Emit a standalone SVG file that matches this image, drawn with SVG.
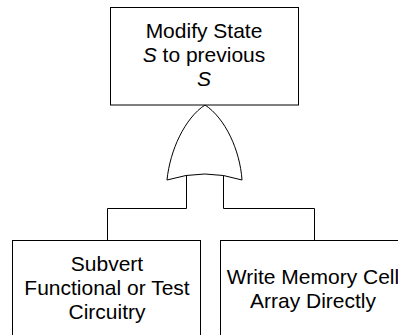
<svg xmlns="http://www.w3.org/2000/svg" width="398" height="335" viewBox="0 0 398 335">
  <style>
    .box { fill: #ffffff; stroke: #000000; stroke-width: 1; }
    .wire { fill: none; stroke: #000000; stroke-width: 1; }
    .gate { fill: #ffffff; stroke: #000000; stroke-width: 1; }
    text { font-family: "Liberation Sans", Arial, sans-serif; font-size: 21px; fill: #000000; text-anchor: middle; }
    .it { font-style: italic; }
  </style>
  <rect width="398" height="335" fill="#ffffff"/>

  <!-- connectors from the OR gate down to the two child events -->
  <g id="connectors">
    <path class="wire" d="M186.5,174 V208.5 H107.5 V240.5"/>
    <path class="wire" d="M223.5,174 V208.5 H314.5 V240.5"/>
  </g>

  <!-- OR gate -->
  <g id="or-gate">
    <path class="gate" d="M205,105 C185,118 170,150 167,180 Q205,168 242,180 C240,150 225,118 205,105 Z"/>
  </g>

  <!-- top event -->
  <g id="top-event">
    <rect class="box" x="110.5" y="7.5" width="188" height="97.5"/>
    <text x="204" y="38">Modify State</text>
    <text x="204" y="62"><tspan class="it">S</tspan> to previous</text>
    <text x="204" y="86" class="it">S</text>
  </g>

  <!-- child event: functional / test circuitry -->
  <g id="subvert-circuitry">
    <rect class="box" x="12.5" y="240.5" width="188" height="110"/>
    <text x="107" y="271">Subvert</text>
    <text x="107" y="295">Functional or Test</text>
    <text x="107" y="319">Circuitry</text>
  </g>

  <!-- child event: direct memory write -->
  <g id="write-memory">
    <rect class="box" x="220.5" y="240.5" width="188" height="110"/>
    <text x="313" y="284">Write Memory Cell</text>
    <text x="313" y="308">Array Directly</text>
  </g>
</svg>
